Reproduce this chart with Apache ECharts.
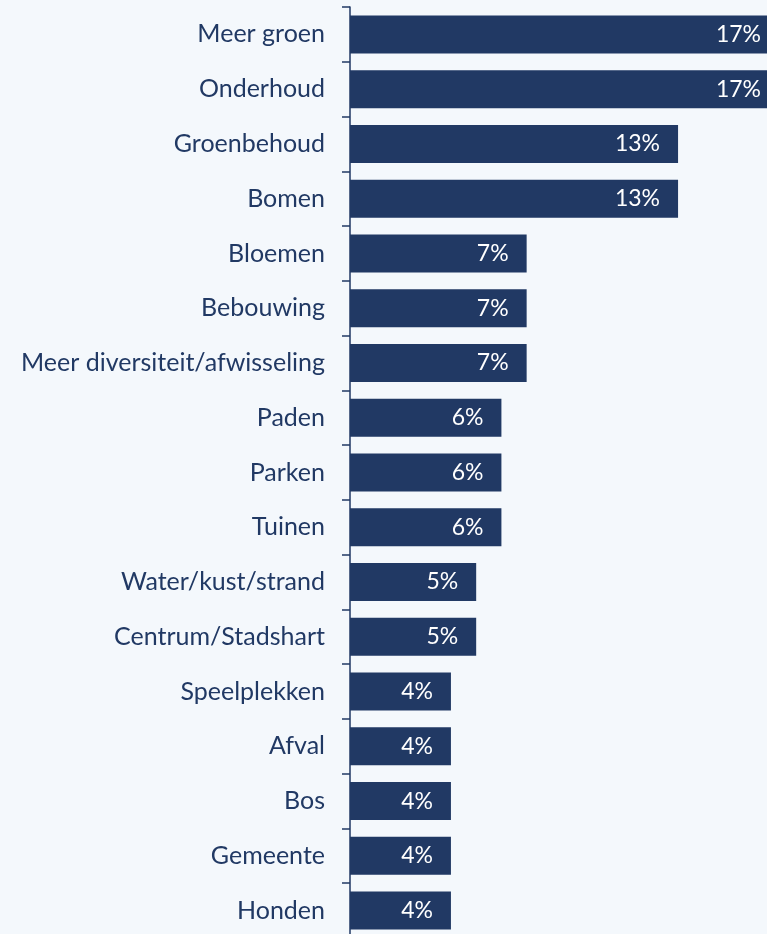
<!DOCTYPE html>
<html>
<head>
<meta charset="utf-8">
<script src="https://cdn.jsdelivr.net/npm/echarts@6/dist/echarts.min.js"></script>
<style>
  html, body { margin: 0; padding: 0; background: #f4f8fc; }
  #chart { width: 767px; height: 934px; }
</style>
</head>
<body>
<div id="chart"></div>
<script>
const categories = [
  'Meer groen', 'Onderhoud', 'Groenbehoud', 'Bomen', 'Bloemen', 'Bebouwing',
  'Meer diversiteit/afwisseling', 'Paden', 'Parken', 'Tuinen',
  'Water/kust/strand', 'Centrum/Stadshart', 'Speelplekken', 'Afval', 'Bos',
  'Gemeente', 'Honden'
]
const values = [17, 17, 13, 13, 7, 7, 7, 6, 6, 6, 5, 5, 4, 4, 4, 4, 4]

const navy = '#213964'
const chart = echarts.init(document.getElementById('chart'))
const option = {
  backgroundColor: '#f4f8fc',
  textStyle: { fontFamily: 'Lato' },
  // grid runs a little past the right and bottom edge, like the cropped original
  grid: {
    left: 350,
    top: 7,
    width: 429,
    height: 931,
    outerBoundsMode: 'none'
  },
  xAxis: {
    type: 'value',
    min: 0,
    max: 17,
    show: false
  },
  yAxis: {
    type: 'category',
    inverse: true,
    data: categories,
    axisLine: { lineStyle: { color: navy, width: 1.5 } },
    axisTick: { show: true, length: 8, lineStyle: { color: navy, width: 1.5 } },
    axisLabel: {
      color: navy,
      fontSize: 25,
      margin: 25
    }
  },
  series: [
    {
      type: 'bar',
      data: values,
      barWidth: 38,
      clip: false,
      itemStyle: { color: navy },
      label: {
        show: true,
        position: 'insideRight',
        distance: 18,
        color: '#ffffff',
        fontSize: 23,
        formatter: '{c}%'
      }
    }
  ]
}
chart.setOption(option)
</script>
</body>
</html>
